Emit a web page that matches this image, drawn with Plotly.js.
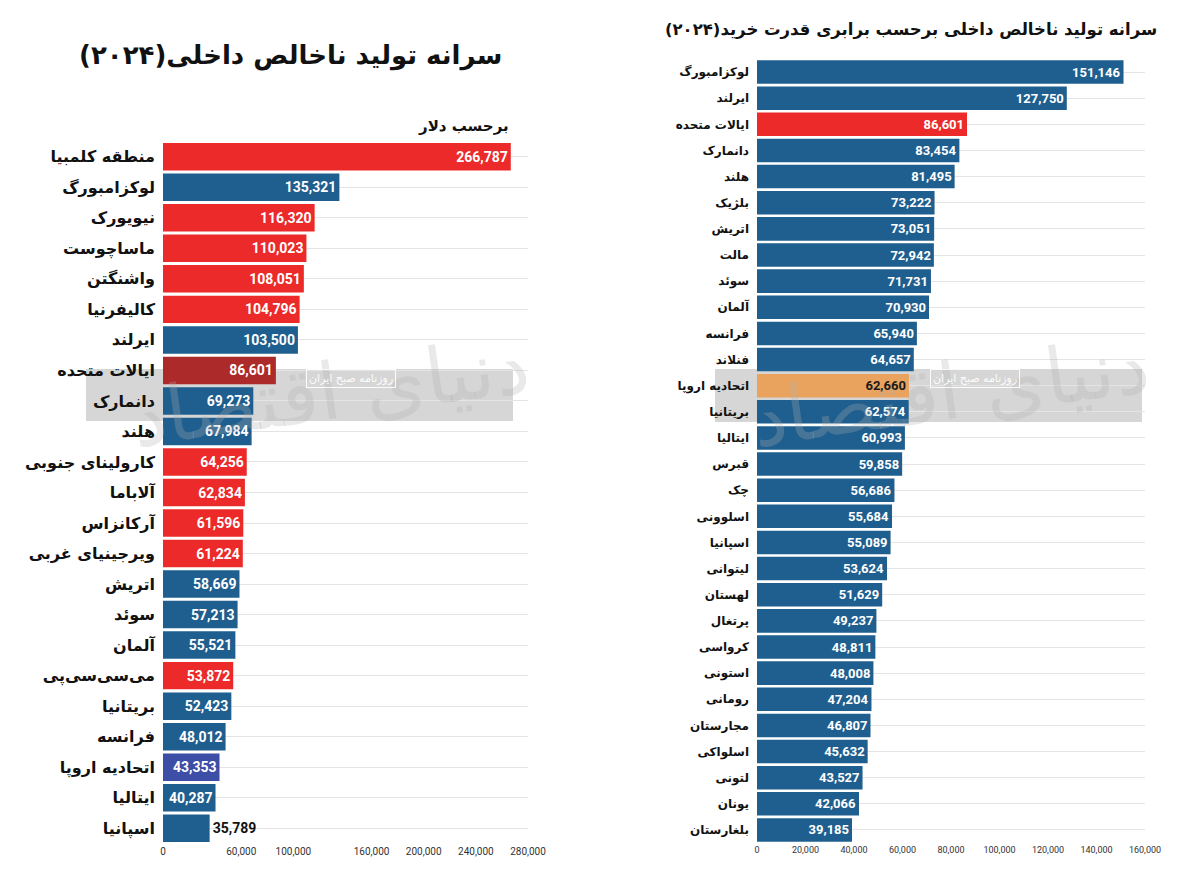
<!DOCTYPE html>
<html>
<head>
<meta charset="utf-8">
<script src="https://cdn.plot.ly/plotly-3.0.1.min.js"></script>
<style>
  html, body { margin: 0; padding: 0; background: #ffffff; }
  #chart { width: 1200px; height: 892px; }
</style>
</head>
<body>
<div id="chart"></div>
<script>
// ---------- Data: left chart (nominal GDP per capita, USD) ----------
const leftCategories = [
  "منطقه کلمبیا", "لوکزامبورگ", "نیویورک", "ماساچوست", "واشنگتن", "کالیفرنیا",
  "ایرلند", "ایالات متحده", "دانمارک", "هلند", "کارولینای جنوبی", "آلاباما",
  "آرکانزاس", "ویرجینیای غربی", "اتریش", "سوئد", "آلمان", "می‌سی‌سی‌پی",
  "بریتانیا", "فرانسه", "اتحادیه اروپا", "ایتالیا", "اسپانیا"
];
const leftValues = [
  266787, 135321, 116320, 110023, 108051, 104796,
  103500, 86601, 69273, 67984, 64256, 62834,
  61596, 61224, 58669, 57213, 55521, 53872,
  52423, 48012, 43353, 40287, 35789
];
const leftGroups = [
  "state", "country", "state", "state", "state", "state",
  "country", "us", "country", "country", "state", "state",
  "state", "state", "country", "country", "country", "state",
  "country", "country", "eu", "country", "country"
];
const leftTickValues = [0, 60000, 100000, 160000, 200000, 240000, 280000];

// ---------- Data: right chart (GDP per capita, PPP) ----------
const rightCategories = [
  "لوکزامبورگ", "ایرلند", "ایالات متحده", "دانمارک", "هلند", "بلژیک",
  "اتریش", "مالت", "سوئد", "آلمان", "فرانسه", "فنلاند",
  "اتحادیه اروپا", "بریتانیا", "ایتالیا", "قبرس", "چک", "اسلوونی",
  "اسپانیا", "لیتوانی", "لهستان", "پرتغال", "کرواسی", "استونی",
  "رومانی", "مجارستان", "اسلواکی", "لتونی", "یونان", "بلغارستان"
];
const rightValues = [
  151146, 127750, 86601, 83454, 81495, 73222,
  73051, 72942, 71731, 70930, 65940, 64657,
  62660, 62574, 60993, 59858, 56686, 55684,
  55089, 53624, 51629, 49237, 48811, 48008,
  47204, 46807, 45632, 43527, 42066, 39185
];
const rightGroups = [
  "country", "country", "us", "country", "country", "country",
  "country", "country", "country", "country", "country", "country",
  "eu", "country", "country", "country", "country", "country",
  "country", "country", "country", "country", "country", "country",
  "country", "country", "country", "country", "country", "country"
];
const rightTickValues = [0, 20000, 40000, 60000, 80000, 100000, 120000, 140000, 160000];

// ---------- Text ----------
const leftTitle = "سرانه تولید ناخالص داخلی(۲۰۲۴)";
const leftSubtitle = "برحسب دلار";
const rightTitle = "سرانه تولید ناخالص داخلی برحسب برابری قدرت خرید(۲۰۲۴)";
const watermarkSmall = "روزنامه صبح ایران";
const watermarkBig = "دنیای اقتصاد";

// ---------- Styles ----------
const BLUE = "#1f5f8f";
const RED = "#ec2a2a";
const leftColorMap = { state: RED, country: BLUE, us: "#ad2a2a", eu: "#3d4ea6" };
const rightColorMap = { country: BLUE, us: RED, eu: "#e9a35f" };
const fmt = v => v.toLocaleString("en-US");

// Left: the last (shortest) bar has its label outside
const leftPositions = leftValues.map(v => (v < 38000 ? "outside" : "inside"));
const leftTextColors = leftPositions.map(p => (p === "inside" ? "#ffffff" : "#111111"));
const rightTextColors = rightGroups.map(g => (g === "eu" ? "#1a1a1a" : "#ffffff"));

const traceLeft = {
  type: "bar",
  orientation: "h",
  x: leftValues,
  y: leftCategories,
  xaxis: "x",
  yaxis: "y",
  marker: { color: leftGroups.map(g => leftColorMap[g]), line: { width: 0 } },
  text: leftValues.map(fmt),
  textposition: leftPositions,
  insidetextanchor: "end",
  constraintext: "none",
  cliponaxis: false,
  textfont: { family: "Roboto, 'DejaVu Sans', sans-serif", size: 14, weight: 700, color: leftTextColors },
  hoverinfo: "x+y"
};

const traceRight = {
  type: "bar",
  orientation: "h",
  x: rightValues,
  y: rightCategories,
  xaxis: "x2",
  yaxis: "y2",
  marker: { color: rightGroups.map(g => rightColorMap[g]), line: { width: 0 } },
  text: rightValues.map(fmt),
  textposition: "inside",
  insidetextanchor: "end",
  constraintext: "none",
  cliponaxis: false,
  textfont: { family: "Roboto, 'DejaVu Sans', sans-serif", size: 13, weight: 700, color: rightTextColors },
  hoverinfo: "x+y"
};

const H = 892, W = 1200;
const px = x => x / W;
const py = y => (H - y) / H;

const layout = {
  width: W,
  height: H,
  margin: { l: 0, r: 0, t: 0, b: 0 },
  paper_bgcolor: "#ffffff",
  plot_bgcolor: "rgba(0,0,0,0)",
  showlegend: false,
  bargap: 0.1,
  font: { family: "'DejaVu Sans', sans-serif", color: "#111111" },
  xaxis: {
    domain: [px(163), px(528)],
    range: [0, 280000],
    tickvals: leftTickValues,
    ticktext: leftTickValues.map(fmt),
    showgrid: false,
    zeroline: false,
    showline: false,
    ticks: "",
    tickfont: { family: "Roboto, sans-serif", size: 10, color: "#333333" },
    anchor: "y",
    fixedrange: true
  },
  yaxis: {
    domain: [py(843.5), py(141.5)],
    autorange: "reversed",
    type: "category",
    showgrid: true,
    gridcolor: "#e4e4e4",
    gridwidth: 1,
    showline: false,
    ticks: "",
    ticklabelstandoff: 7,
    tickfont: { family: "'DejaVu Sans', sans-serif", size: 16, weight: 700, color: "#111111" },
    anchor: "x",
    fixedrange: true
  },
  xaxis2: {
    domain: [px(757), px(1145)],
    range: [0, 160000],
    tickvals: rightTickValues,
    ticktext: rightTickValues.map(fmt),
    showgrid: false,
    zeroline: false,
    showline: false,
    ticks: "",
    tickfont: { family: "Roboto, sans-serif", size: 9, color: "#333333" },
    anchor: "y2",
    fixedrange: true
  },
  yaxis2: {
    domain: [py(843), py(59)],
    autorange: "reversed",
    type: "category",
    showgrid: true,
    gridcolor: "#e4e4e4",
    gridwidth: 1,
    showline: false,
    ticks: "",
    ticklabelstandoff: 7,
    tickfont: { family: "'DejaVu Sans', sans-serif", size: 12, weight: 700, color: "#111111" },
    anchor: "x2",
    fixedrange: true
  },
  shapes: [
    { type: "rect", xref: "paper", yref: "paper", layer: "below",
      x0: px(86), x1: px(513), y0: py(421), y1: py(369),
      fillcolor: "#d6d6d6", line: { width: 0 } },
    { type: "rect", xref: "paper", yref: "paper", layer: "below",
      x0: px(715), x1: px(1142), y0: py(422), y1: py(369),
      fillcolor: "#d6d6d6", line: { width: 0 } }
  ],
  annotations: [
    { text: leftTitle, xref: "paper", yref: "paper", x: px(290), y: py(55),
      xanchor: "center", yanchor: "middle", showarrow: false,
      font: { family: "'DejaVu Sans', sans-serif", size: 26, weight: 700, color: "#111111" } },
    { text: leftSubtitle, xref: "paper", yref: "paper", x: px(511), y: py(126),
      xanchor: "right", yanchor: "middle", showarrow: false,
      font: { family: "'DejaVu Sans', sans-serif", size: 15, weight: 700, color: "#111111" } },
    { text: rightTitle, xref: "paper", yref: "paper", x: px(911), y: py(30),
      xanchor: "center", yanchor: "middle", showarrow: false,
      font: { family: "'DejaVu Sans', sans-serif", size: 16.5, weight: 700, color: "#111111" } },
    { text: watermarkBig, xref: "paper", yref: "paper", x: px(330), y: py(392),
      xanchor: "center", yanchor: "middle", showarrow: false, textangle: -8,
      font: { family: "'DejaVu Serif', serif", size: 78, color: "rgba(175,175,175,0.28)" } },
    { text: watermarkBig, xref: "paper", yref: "paper", x: px(950), y: py(392),
      xanchor: "center", yanchor: "middle", showarrow: false, textangle: -8,
      font: { family: "'DejaVu Serif', serif", size: 78, color: "rgba(175,175,175,0.28)" } },
    { text: watermarkSmall, xref: "paper", yref: "paper", x: px(351), y: py(378),
      xanchor: "center", yanchor: "middle", showarrow: false,
      bordercolor: "rgba(255,255,255,0.9)", borderwidth: 1, borderpad: 2,
      font: { family: "'DejaVu Sans', sans-serif", size: 11, color: "rgba(255,255,255,0.95)" } },
    { text: watermarkSmall, xref: "paper", yref: "paper", x: px(975), y: py(378),
      xanchor: "center", yanchor: "middle", showarrow: false,
      bordercolor: "rgba(255,255,255,0.9)", borderwidth: 1, borderpad: 2,
      font: { family: "'DejaVu Sans', sans-serif", size: 11, color: "rgba(255,255,255,0.95)" } }
  ]
};

Plotly.newPlot("chart", [traceLeft, traceRight], layout, { displayModeBar: false, staticPlot: true });
</script>
</body>
</html>
